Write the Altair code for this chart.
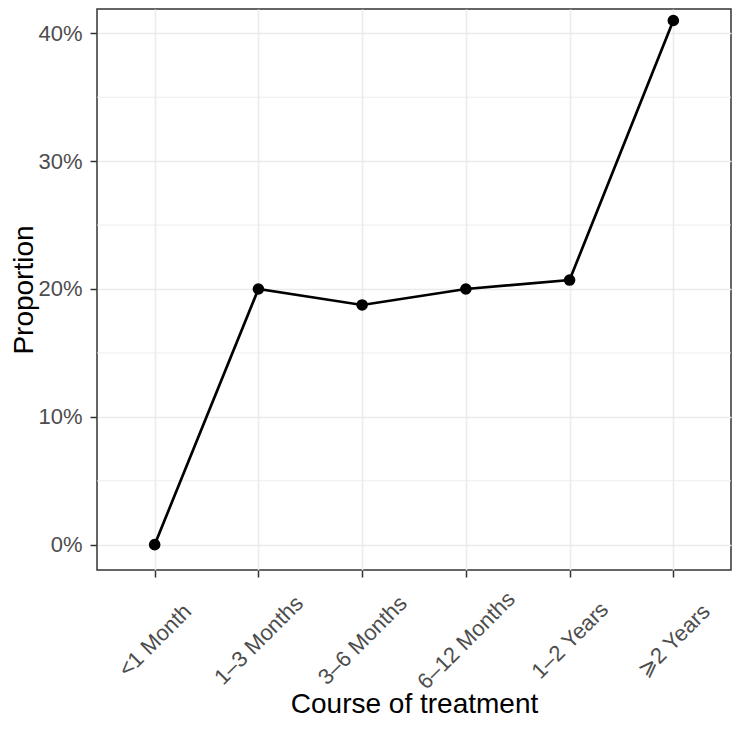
import altair as alt
import pandas as pd

categories = ["<1 Month", "1–3 Months", "3–6 Months", "6–12 Months", "1–2 Years", "⩾2 Years"]
proportions = [0.0, 0.20, 0.1875, 0.20, 0.207, 0.41]
y_major = [0.0, 0.1, 0.2, 0.3, 0.4]
y_minor = [0.05, 0.15, 0.25, 0.35]

df = pd.DataFrame({"course": categories, "prop": proportions})
df_minor = pd.DataFrame({"prop": y_minor})

FONT = "Liberation Sans, Arial, DejaVu Sans, sans-serif"
W, H = 634, 561

y_scale = alt.Scale(domain=[-0.0198, 0.4190], nice=False, zero=False)

x_enc = alt.X(
    "course:O",
    sort=categories,
    scale=alt.Scale(type="point", padding=0.556),
    axis=alt.Axis(
        title="Course of treatment",
        labelAngle=315, labelAlign="center", labelBaseline="middle",
        labelPadding=63, labelFontSize=22, labelColor="#4D4D4D", labelFont=FONT,
        tickSize=7, tickColor="#333333", tickWidth=1.5, domain=False,
        grid=True, gridColor="#EBEBEB", gridWidth=1.6,
        titleFontSize=28, titleFont=FONT, titleColor="black", titleFontWeight="normal",
        titleBaseline="alphabetic", titleY=142,
    ),
)

y_axis = alt.Axis(
    title="Proportion", values=y_major, format=".0%",
    labelPadding=8, labelFontSize=22, labelColor="#4D4D4D", labelFont=FONT,
    tickSize=7, tickColor="#333333", tickWidth=1.5, domain=False,
    grid=True, gridColor="#EBEBEB", gridWidth=1.6,
    titleFontSize=28, titleFont=FONT, titleColor="black", titleFontWeight="normal",
    titleAngle=270, titleBaseline="alphabetic", titleAlign="center",
    titleX=-65, titleY=H / 2,
)

y_enc = alt.Y("prop:Q", scale=y_scale, axis=y_axis)

minor = alt.Chart(df_minor).mark_rule(color="#EBEBEB", strokeWidth=0.9).encode(y=y_enc)

line = alt.Chart(df).mark_line(color="black", strokeWidth=2.7).encode(x=x_enc, y=y_enc)
points = alt.Chart(df).mark_point(filled=True, color="black", size=135, opacity=1).encode(x=x_enc, y=y_enc)

chart = alt.layer(minor, line, points).properties(
    width=W, height=H,
    autosize=alt.AutoSizeParams(type="none"),
    padding={"left": 89, "top": 1, "right": 1, "bottom": 149},
    background="white",
).configure_view(stroke="#333333", strokeWidth=1.5)

chart.save("out.html", embed_options={"renderer": "svg", "actions": False})
